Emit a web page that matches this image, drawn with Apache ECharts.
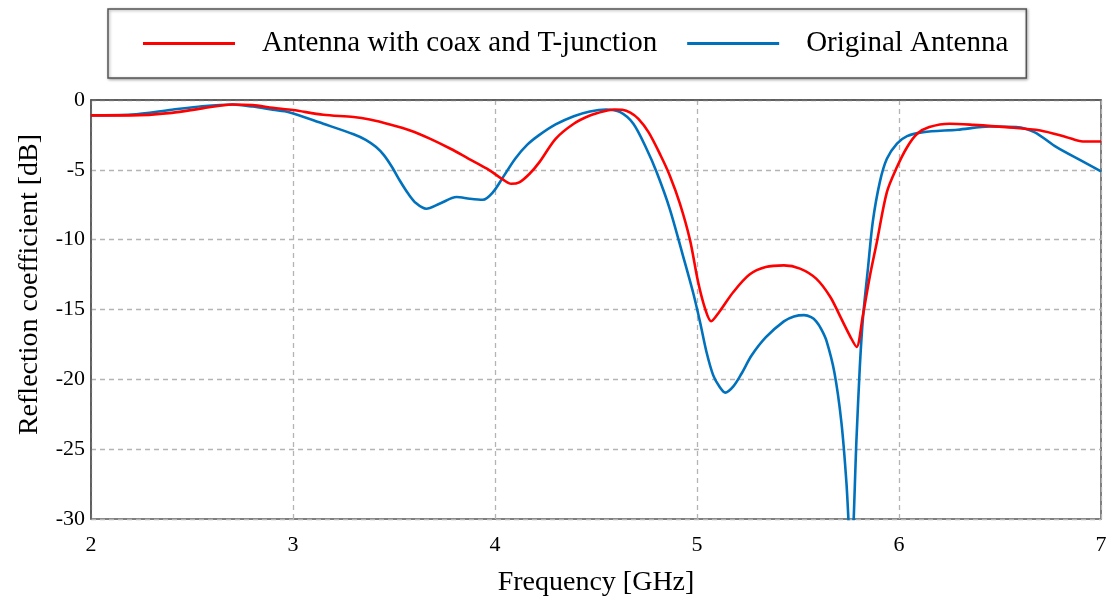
<!DOCTYPE html>
<html>
<head>
<meta charset="utf-8">
<script src="https://cdn.jsdelivr.net/npm/echarts@6/dist/echarts.min.js"></script>
<style>
html,body{margin:0;padding:0;background:#fff;}
#chart{width:1107px;height:603px;}
</style>
</head>
<body>
<div id="chart"></div>
<script>
const seriesNames = ['Antenna with coax and T-junction', 'Original Antenna'];
const xTicks = [2, 3, 4, 5, 6, 7];
const yTicks = [0, -5, -10, -15, -20, -25, -30];

const freqRed = [2.0, 2.2, 2.4, 2.55, 2.7, 2.8, 2.9, 3.0, 3.15, 3.3, 3.38, 3.48, 3.58, 3.68, 3.78, 3.87, 3.96, 4.04, 4.08, 4.12, 4.17, 4.22, 4.3, 4.39, 4.47, 4.54, 4.59, 4.63, 4.67, 4.71, 4.76, 4.82, 4.865, 4.915, 4.965, 5.005, 5.04, 5.07, 5.11, 5.18, 5.26, 5.34, 5.43, 5.51, 5.59, 5.66, 5.71, 5.76, 5.79, 5.82, 5.855, 5.89, 5.94, 5.99, 6.04, 6.09, 6.15, 6.25, 6.37, 6.53, 6.7, 6.83, 6.91, 7.0];
const dbRed = [-1.1, -1.1, -0.92, -0.6, -0.32, -0.37, -0.56, -0.72, -1.06, -1.22, -1.4, -1.75, -2.18, -2.78, -3.49, -4.21, -4.92, -5.7, -6.0, -5.9, -5.3, -4.45, -2.78, -1.7, -1.11, -0.8, -0.68, -0.7, -0.9, -1.35, -2.3, -3.97, -5.4, -7.4, -10.0, -13.0, -14.94, -15.84, -15.18, -13.75, -12.5, -11.96, -11.84, -12.07, -12.79, -14.1, -15.53, -16.97, -17.68, -15.53, -12.67, -10.2, -6.6, -4.8, -3.38, -2.42, -1.94, -1.7, -1.78, -1.94, -2.18, -2.66, -2.97, -2.97];

const freqBlue = [2.0, 2.2, 2.4, 2.55, 2.7, 2.8, 2.9, 2.98, 3.15, 3.3, 3.36, 3.41, 3.45, 3.49, 3.53, 3.57, 3.61, 3.66, 3.725, 3.81, 3.875, 3.94, 3.99, 4.04, 4.1, 4.16, 4.22, 4.3, 4.39, 4.47, 4.55, 4.62, 4.685, 4.75, 4.8, 4.865, 4.93, 4.98, 5.015, 5.047, 5.08, 5.11, 5.14, 5.18, 5.22, 5.27, 5.34, 5.43, 5.48, 5.53, 5.565, 5.59, 5.615, 5.64, 5.68, 5.715, 5.74, 5.763, 5.79, 5.806, 5.822, 5.847, 5.87, 5.905, 5.94, 5.99, 6.04, 6.12, 6.29, 6.45, 6.58, 6.67, 6.78, 6.9, 7.0];
const dbBlue = [-1.1, -1.05, -0.7, -0.45, -0.32, -0.47, -0.7, -0.87, -1.7, -2.45, -2.85, -3.35, -3.95, -4.8, -5.8, -6.7, -7.4, -7.79, -7.43, -6.95, -7.07, -7.14, -6.6, -5.52, -4.2, -3.2, -2.5, -1.75, -1.16, -0.82, -0.68, -0.87, -1.7, -3.49, -5.16, -7.79, -11.12, -13.75, -15.89, -18.04, -19.7, -20.5, -20.95, -20.5, -19.6, -18.3, -17.0, -15.85, -15.5, -15.4, -15.55, -15.85, -16.4, -17.2, -19.5, -23.1, -27.45, -33, -24.12, -19.11, -15.53, -11.96, -8.74, -5.88, -4.21, -3.13, -2.59, -2.3, -2.13, -1.9, -1.94, -2.3, -3.38, -4.33, -5.11];

const FONT = "'Liberation Serif', 'Times New Roman', serif";
const zip = (xs, ys) => xs.map((x, i) => [x, ys[i]]);

const chart = echarts.init(document.getElementById('chart'));
chart.setOption({
  backgroundColor: '#fff',
  animation: false,
  textStyle: { fontFamily: FONT, color: '#000' },
  legend: {
    left: 108, top: 9,
    padding: [20, 18, 20, 35],
    itemGap: 30,
    itemWidth: 92, itemHeight: 3,
    icon: 'rect',
    borderColor: '#555', borderWidth: 1.5,
    backgroundColor: '#fff',
    shadowColor: 'rgba(0,0,0,0.35)', shadowBlur: 3, shadowOffsetX: 1, shadowOffsetY: 1,
    textStyle: { fontFamily: FONT, fontSize: 29, color: '#000', padding: [0, 0, 0, 22] },
    data: seriesNames
  },
  grid: {
    left: 91, right: 6, top: 100, bottom: 84,
    outerBoundsMode: 'none', containLabel: false,
    show: true, borderColor: '#555', borderWidth: 1.5, backgroundColor: '#fff'
  },
  xAxis: {
    type: 'value', min: 2, max: 7, interval: 1,
    name: 'Frequency [GHz]', nameLocation: 'middle', nameGap: 50,
    nameTextStyle: { fontFamily: FONT, fontSize: 28, color: '#000' },
    axisLine: { show: true, lineStyle: { color: '#555', width: 1.5 } },
    axisTick: { show: false },
    axisLabel: { fontFamily: FONT, fontSize: 22, color: '#000', margin: 15,
      formatter: v => xTicks.includes(v) ? String(v) : '' },
    splitLine: { show: true, lineStyle: { color: '#b4b4b4', type: [5, 4], width: 1.3 } }
  },
  yAxis: {
    type: 'value', min: -30, max: 0, interval: 5,
    name: 'Reflection coefficient [dB]', nameLocation: 'middle', nameGap: 47, nameRotate: 90,
    nameTextStyle: { fontFamily: FONT, fontSize: 28, color: '#000', padding: [0, 0, 0, 50] },
    axisLine: { show: true, lineStyle: { color: '#555', width: 1.5 } },
    axisTick: { show: false },
    axisLabel: { fontFamily: FONT, fontSize: 22, color: '#000', margin: 6,
      formatter: v => yTicks.includes(v) ? String(v) : '' },
    splitLine: { show: true, lineStyle: { color: '#b4b4b4', type: [5, 4], width: 1.3 } }
  },
  series: [
    { name: seriesNames[0], type: 'line', data: zip(freqRed, dbRed), smooth: 0.3, showSymbol: false, clip: true,
      color: '#ff0000', lineStyle: { color: '#ff0000', width: 2.6 }, z: 3 },
    { name: seriesNames[1], type: 'line', data: zip(freqBlue, dbBlue), smooth: 0.3, showSymbol: false, clip: true,
      color: '#0072bd', lineStyle: { color: '#0072bd', width: 2.6 }, z: 2 }
  ]
});
</script>
</body>
</html>
